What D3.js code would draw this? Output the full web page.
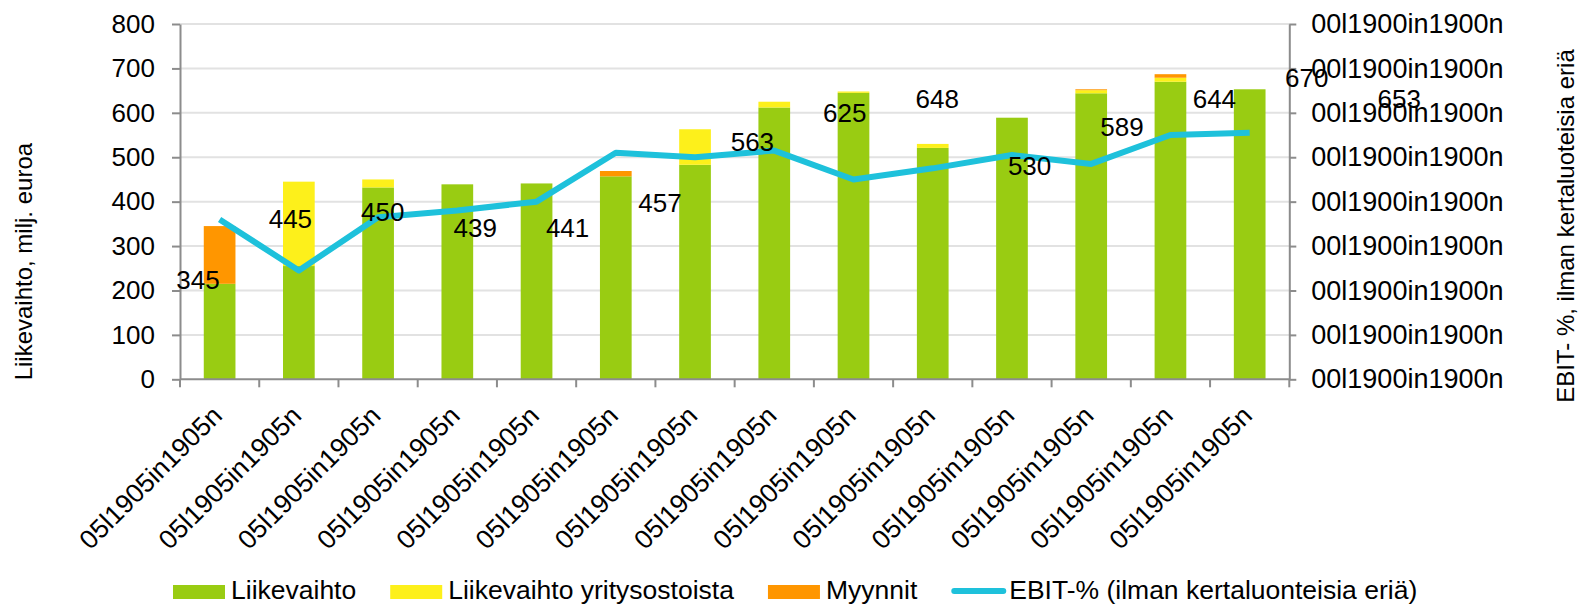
<!DOCTYPE html>
<html>
<head>
<meta charset="UTF-8">
<title>Liikevaihto ja EBIT-%</title>
<script src="https://cdn.jsdelivr.net/npm/d3@7"></script>
<style>
  body { margin: 0; background: #fff; }
  svg text { font-family: "Liberation Sans", Arial, sans-serif; fill: #000; }
</style>
</head>
<body>
<svg id="chart" width="1579" height="604"></svg>
<script>
// category labels (the source's date format is broken, so every label reads the same)
const categoryLabels = ["05l1905in1905n", "05l1905in1905n", "05l1905in1905n", "05l1905in1905n",
  "05l1905in1905n", "05l1905in1905n", "05l1905in1905n", "05l1905in1905n", "05l1905in1905n",
  "05l1905in1905n", "05l1905in1905n", "05l1905in1905n", "05l1905in1905n", "05l1905in1905n"];

// stacked bars, milj. euroa
const liikevaihto = [215, 255, 432, 439, 441, 457, 483, 612, 645, 521, 589, 644, 670, 653];
const yritysostoista = [0, 190, 18, 0, 0, 0, 80, 13, 3, 9, 0, 7, 9, 0];
const myynnit = [130, 0, 0, 0, 0, 12, 0, 0, 0, 0, 0, 2, 8, 0];

// EBIT-% line (right axis)
const ebitPct = [7.2, 4.9, 7.3, 7.6, 8.0, 10.2, 10.0, 10.3, 9.0, 9.5, 10.1, 9.7, 11.0, 11.1];

// data labels and the level (left axis units) where each one sits
const dataLabels = [345, 445, 450, 439, 441, 457, 563, 625, 648, 530, 589, 644, 670, 653];
const dataLabelLevel = [224, 361, 377, 341, 341, 397, 535, 601, 633, 480, 568, 633, 680, 633];

// axes
const leftTicks = [0, 100, 200, 300, 400, 500, 600, 700, 800];
const rightTicks = [0, 2, 4, 6, 8, 10, 12, 14, 16];
const rightTickLabels = ["00l1900in1900n", "00l1900in1900n", "00l1900in1900n", "00l1900in1900n",
  "00l1900in1900n", "00l1900in1900n", "00l1900in1900n", "00l1900in1900n", "00l1900in1900n"];

const seriesNames = ["Liikevaihto", "Liikevaihto yritysostoista", "Myynnit"];
const lineName = "EBIT-% (ilman kertaluonteisia eriä)";
const leftTitle = "Liikevaihto, milj. euroa";
const rightTitle = "EBIT- %, ilman kertaluoteisia eriä";

//layout
const plot = { left: 180, right: 1289.3, top: 24, bottom: 379.3 };
const colors = ["#99cc12", "#fdf01b", "#ff9600"];
const lineColor = "#1ec1db";
const axisColor = "#8c8c8c";
const gridColor = "#e2e2e2";

const svg = d3.select("#chart");

const idx = d3.range(categoryLabels.length);
const x = d3.scaleBand().domain(idx).range([plot.left, plot.right]).padding(0);
const y = d3.scaleLinear().domain([0, 800]).range([plot.bottom, plot.top]);
const y2 = d3.scaleLinear().domain([0, 16]).range([plot.bottom, plot.top]);

//gridlines
svg.append("g")
  .selectAll("line")
  .data(leftTicks.slice(1))
  .join("line")
  .attr("x1", plot.left).attr("x2", plot.right)
  .attr("y1", d => y(d)).attr("y2", d => y(d))
  .attr("stroke", gridColor).attr("stroke-width", 2);

//stacked bars
const rows = idx.map(i => ({ i: i, a: liikevaihto[i], b: yritysostoista[i], c: myynnit[i] }));
const stacked = d3.stack().keys(["a", "b", "c"])(rows);
const barW = x.bandwidth() * 0.4;

svg.append("g")
  .selectAll("g")
  .data(stacked)
  .join("g")
  .attr("fill", (d, k) => colors[k])
  .selectAll("rect")
  .data(d => d.filter(s => s[1] > s[0]))
  .join("rect")
  .attr("x", s => x(s.data.i) + (x.bandwidth() - barW) / 2)
  .attr("width", barW)
  .attr("y", s => y(s[1]))
  .attr("height", s => y(s[0]) - y(s[1]));

//left axis
const gLeft = svg.append("g")
  .attr("transform", `translate(${plot.left},0)`)
  .call(d3.axisLeft(y).tickValues(leftTicks).tickSize(8).tickPadding(17).tickSizeOuter(0));
gLeft.selectAll("text").attr("font-size", 26);

//right axis
const gRight = svg.append("g")
  .attr("transform", `translate(${plot.right},0)`)
  .call(d3.axisRight(y2).tickValues(rightTicks).tickSize(7).tickPadding(15).tickSizeOuter(0)
    .tickFormat((d, i) => rightTickLabels[i]));
gRight.selectAll("text").attr("font-size", 27);

//bottom axis, ticks on the band edges
const gBottom = svg.append("g").attr("transform", `translate(0,${plot.bottom})`);
gBottom.append("line")
  .attr("x1", plot.left).attr("x2", plot.right)
  .attr("stroke", axisColor).attr("stroke-width", 2);
gBottom.selectAll(".tk")
  .data(idx.map(i => x(i)).concat([plot.right]))
  .join("line")
  .attr("class", "tk")
  .attr("x1", d => d).attr("x2", d => d)
  .attr("y1", 0).attr("y2", 8)
  .attr("stroke", axisColor).attr("stroke-width", 2);
gBottom.selectAll("text")
  .data(idx)
  .join("text")
  .attr("transform", i => `translate(${x(i) + x.bandwidth() / 2 + 4},38) rotate(-45)`)
  .attr("text-anchor", "end")
  .attr("font-size", 26.5)
  .text(i => categoryLabels[i]);

[gLeft, gRight].forEach(g => {
  g.select(".domain").attr("stroke", axisColor).attr("stroke-width", 2);
  g.selectAll(".tick line").attr("stroke", axisColor).attr("stroke-width", 2);
  g.selectAll("text").attr("font-family", null).style("fill", "#000");
});

//EBIT line
const line = d3.line()
  .x((d, i) => x(i) + x.bandwidth() / 2)
  .y(d => y2(d));
svg.append("path")
  .datum(ebitPct)
  .attr("d", line)
  .attr("fill", "none")
  .attr("stroke", lineColor)
  .attr("stroke-width", 6)
  .attr("stroke-linejoin", "round");

//data labels
const labelX = d3.scaleLinear().domain([0, 13]).range([plot.left + 18, plot.left + 18 + 13 * 92.4]);
svg.append("g")
  .selectAll("text")
  .data(dataLabels)
  .join("text")
  .attr("x", (d, i) => labelX(i))
  .attr("y", (d, i) => y(dataLabelLevel[i]))
  .attr("dy", "0.36em")
  .attr("text-anchor", "middle")
  .attr("font-size", 26)
  .text(d => d);

//axis titles
svg.append("text")
  .attr("transform", `translate(32,${(plot.top + plot.bottom) / 2 + 60}) rotate(-90)`)
  .attr("text-anchor", "middle")
  .attr("font-size", 24)
  .text(leftTitle);
svg.append("text")
  .attr("transform", `translate(1574,226) rotate(-90)`)
  .attr("text-anchor", "middle")
  .attr("font-size", 24)
  .text(rightTitle);

//legend
const legend = svg.append("g").attr("transform", "translate(173,0)");
const items = seriesNames.map((n, k) => ({ name: n, color: colors[k], type: "box" }))
  .concat([{ name: lineName, color: lineColor, type: "line" }]);
let lx = 0;
items.forEach(it => {
  const g = legend.append("g").attr("transform", `translate(${lx},0)`);
  if (it.type === "box") {
    g.append("rect").attr("x", 0).attr("y", 585).attr("width", 52).attr("height", 14).attr("fill", it.color);
  } else {
    g.append("line").attr("x1", 3).attr("x2", 52).attr("y1", 591).attr("y2", 591)
      .attr("stroke", it.color).attr("stroke-width", 6).attr("stroke-linecap", "round");
  }
  const t = g.append("text").attr("x", 58).attr("y", 599).attr("font-size", 26.5).text(it.name);
  lx += 58 + t.node().getComputedTextLength() + 34;
});
</script>
</body>
</html>
